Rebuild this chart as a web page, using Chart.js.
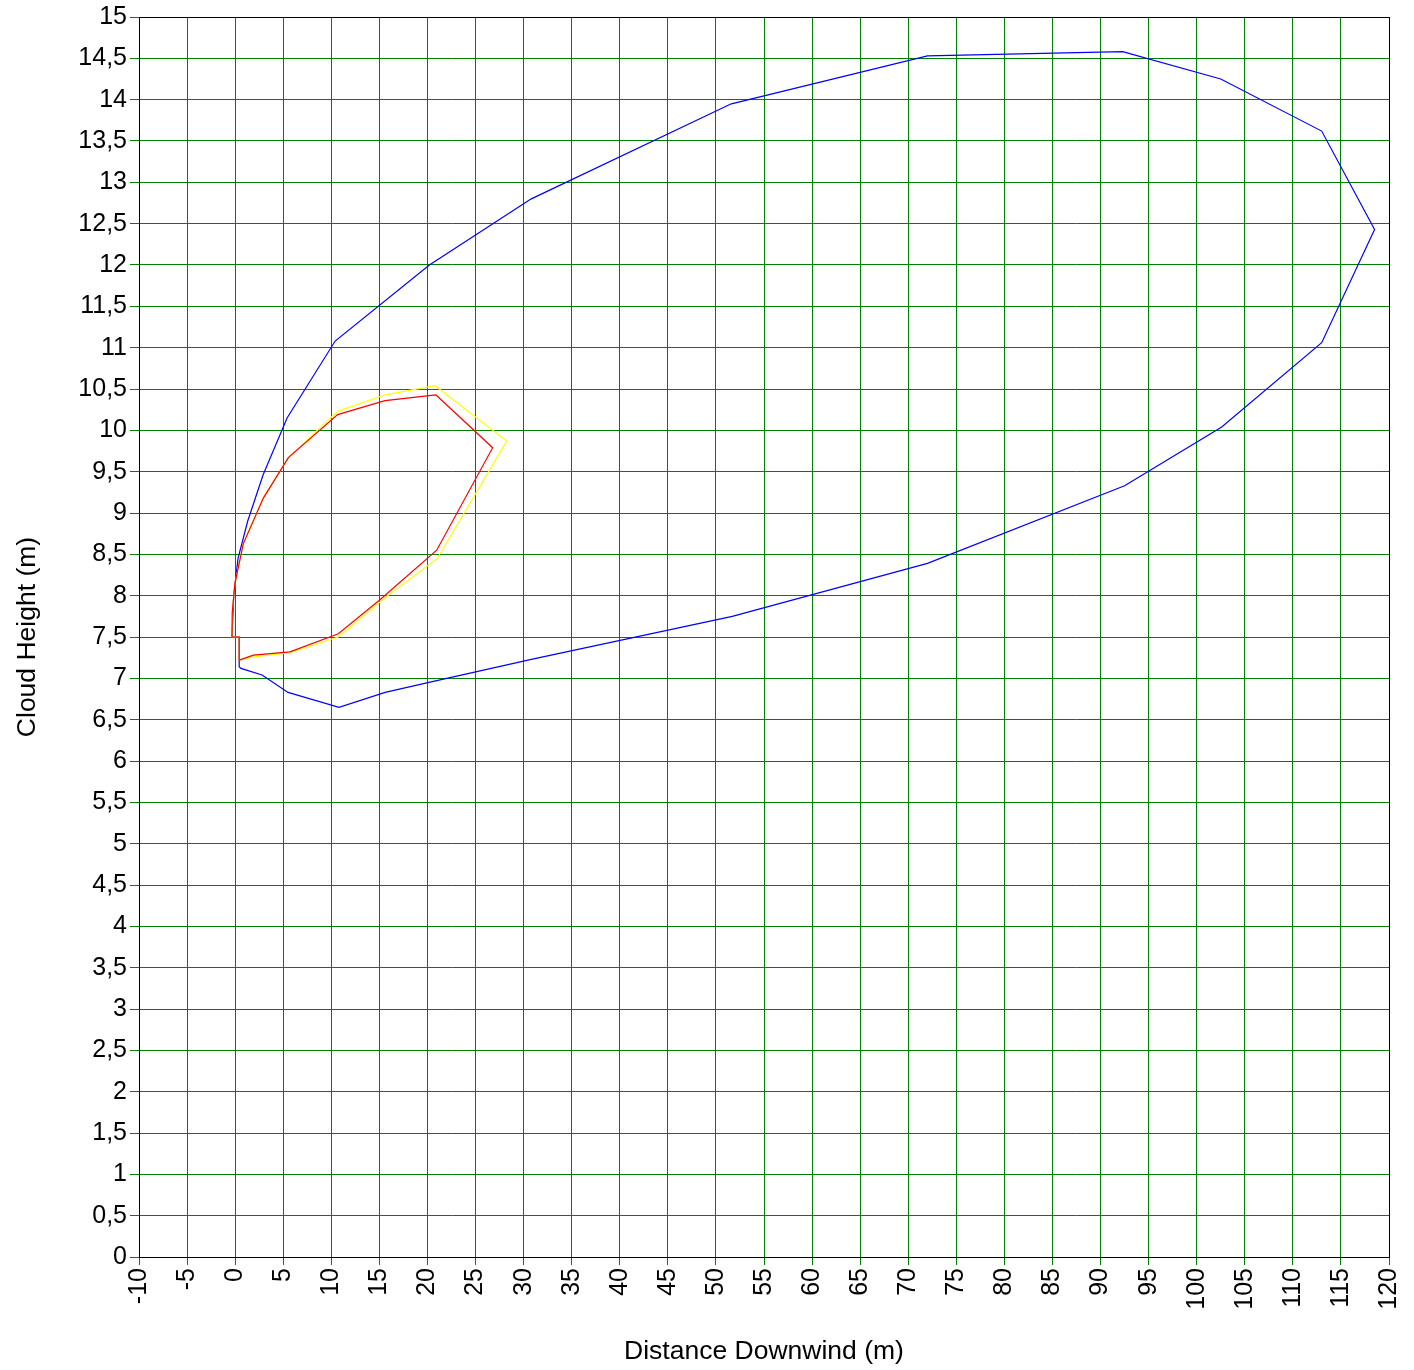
<!DOCTYPE html>
<html>
<head>
<meta charset="utf-8">
<title>Cloud Height</title>
<script src="https://cdn.jsdelivr.net/npm/chart.js@4/dist/chart.umd.min.js"></script>
<style>
  html, body { margin: 0; padding: 0; background: #fff; }
  #wrap { width: 1414px; height: 1370px; }
</style>
</head>
<body>
<div id="wrap"><canvas id="cloudChart" width="1414" height="1370"></canvas></div>
<script>
// Axis ranges / ticks
const xMin = -10, xMax = 120, xStep = 5;
const yMin = 0, yMax = 15, yStep = 0.5;

// Blue contour (outer)
const blueX = [-0.33, 0.42, 0.42, 0.6, 2.8, 5.5, 10.8, 15.6, 20.5, 30.8, 51.7, 72.0, 92.5, 102.6, 113.0, 118.5, 113.0, 102.5, 92.3, 72.0, 51.6, 30.8, 20.2, 10.4, 5.4, 2.9, 1.3, 0.3, -0.15, -0.33];
const blueY = [7.5, 7.5, 7.14, 7.12, 7.04, 6.83, 6.65, 6.83, 6.96, 7.23, 7.75, 8.39, 9.33, 10.04, 11.06, 12.43, 13.62, 14.25, 14.58, 14.53, 13.95, 12.8, 12.0, 11.08, 10.15, 9.46, 8.9, 8.45, 8.0, 7.5];

// Red contour
const redX = [20.86, 15.58, 10.66, 5.53, 2.93, 0.85, -0.02, -0.3, -0.33, 0.42, 0.42, 1.9, 5.7, 10.73, 15.06, 20.96, 26.78, 20.86];
const redY = [10.43, 10.36, 10.19, 9.67, 9.18, 8.63, 8.15, 7.8, 7.5, 7.5, 7.22, 7.28, 7.32, 7.54, 7.95, 8.55, 9.79, 10.43];

// Yellow contour
const yellowX = [20.79, 15.58, 10.66, 5.53, 2.93, 0.85, -0.02, -0.3, -0.33, 0.42, 0.42, 1.9, 5.7, 10.73, 15.75, 21.02, 28.24, 20.79];
const yellowY = [10.54, 10.43, 10.23, 9.67, 9.18, 8.63, 8.15, 7.8, 7.5, 7.5, 7.22, 7.26, 7.31, 7.5, 7.99, 8.45, 9.87, 10.54];

function toPoints(xs, ys) {
  return xs.map((x, i) => ({ x: x, y: ys[i] }));
}

const FONT = '"Liberation Sans", Arial, sans-serif';
const GRID = '#008000';

// black frame round the plot area
const framePlugin = {
  id: 'frame',
  beforeDatasetsDraw(chart) {
    const a = chart.chartArea;
    const ctx = chart.ctx;
    ctx.save();
    ctx.strokeStyle = '#000';
    ctx.lineWidth = 1;
    ctx.strokeRect(Math.round(a.left) + 0.5, Math.round(a.top) + 0.5,
      Math.round(a.right - a.left), Math.round(a.bottom - a.top));
    ctx.restore();
  }
};

function line(label, color, xs, ys) {
  return {
    label: label,
    data: toPoints(xs, ys),
    showLine: true,
    borderColor: color,
    backgroundColor: color,
    borderWidth: 1.2,
    pointRadius: 0,
    tension: 0,
    fill: false
  };
}

new Chart(document.getElementById('cloudChart'), {
  type: 'scatter',
  data: {
    datasets: [
      line('Red', '#ff0000', redX, redY),
      line('Yellow', '#ffff00', yellowX, yellowY),
      line('Blue', '#0000ff', blueX, blueY)
    ]
  },
  options: {
    responsive: false,
    animation: false,
    layout: { padding: { top: 17, right: 25, left: 0, bottom: 0 } },
    plugins: {
      legend: { display: false },
      tooltip: { enabled: false }
    },
    scales: {
      x: {
        type: 'linear',
        min: xMin, max: xMax,
        afterFit(scale) {
          scale.height = 113;
          scale.paddingLeft = 0;
          scale.paddingRight = 0;
        },
        ticks: {
          stepSize: xStep,
          minRotation: 90, maxRotation: 90,
          padding: 3,
          color: '#000',
          font: { family: FONT, size: 25 }
        },
        grid: { color: GRID, lineWidth: 1, tickLength: 8 },
        border: { color: '#000', width: 1 },
        title: {
          display: true,
          text: 'Distance Downwind (m)',
          color: '#000',
          font: { family: FONT, size: 26.5 },
          padding: { top: 0, bottom: 2 }
        }
      },
      y: {
        type: 'linear',
        min: yMin, max: yMax,
        afterFit(scale) {
          scale.width = 139;
          scale.paddingTop = 0;
          scale.paddingBottom = 0;
        },
        ticks: {
          stepSize: yStep,
          padding: 3,
          color: '#000',
          font: { family: FONT, size: 25 },
          callback: v => String(v).replace('.', ',')
        },
        grid: { color: GRID, lineWidth: 1, tickLength: 9 },
        border: { color: '#000', width: 1 },
        title: {
          display: true,
          text: 'Cloud Height (m)',
          color: '#000',
          font: { family: FONT, size: 26.5 },
          padding: { top: 12, bottom: 0 }
        }
      }
    }
  },
  plugins: [framePlugin]
});
</script>
</body>
</html>
